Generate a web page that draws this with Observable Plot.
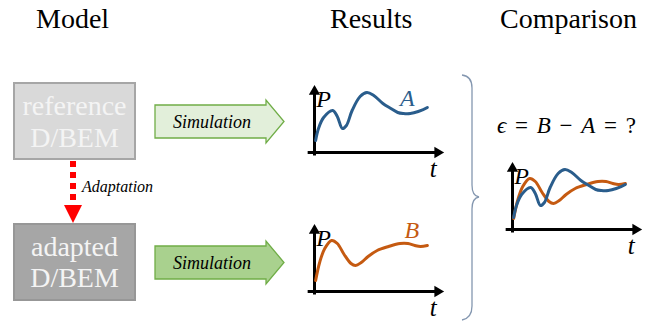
<!DOCTYPE html>
<html><head><meta charset="utf-8">
<script src="https://cdn.jsdelivr.net/npm/d3@7"></script>
<script src="https://cdn.jsdelivr.net/npm/@observablehq/plot@0.6"></script>
<style>
html,body{margin:0;padding:0;background:#fff;}
#stage{position:relative;width:654px;height:322px;overflow:hidden;background:#fff;}
#stage svg.deco{position:absolute;left:0;top:0;}
.mini{position:absolute;}
</style></head><body><div id="stage"></div>
<script>
// ---------- data ----------
const tA = [0.1, 0.35, 0.8, 1.6, 2.0, 2.45, 2.8, 3.3, 4.0, 4.6, 5.2, 6.0, 6.7, 7.3, 7.8, 8.4, 9.1, 9.9];
const pA = [1.2, 2.4, 3.5, 4.2, 3.6, 2.4, 2.7, 4.2, 5.6, 6.0, 5.7, 4.9, 4.4, 4.0, 3.9, 3.9, 4.1, 4.5];
const tB = [0.1, 0.45, 0.9, 1.5, 2.0, 2.6, 3.2, 3.6, 4.1, 4.7, 5.5, 6.5, 7.5, 8.2, 8.8, 9.3, 9.9];
const pB = [1.1, 2.9, 4.3, 5.1, 4.8, 3.7, 2.8, 2.6, 2.9, 3.5, 4.1, 4.5, 4.8, 4.8, 4.6, 4.5, 4.6];
const seriesNames = ["A", "B"];
const axisNames = ["P", "t"];
const headings = ["Model", "Results", "Comparison"];
const modelLines = [["reference", "D/BEM"], ["adapted", "D/BEM"]];
const stepLabels = ["Simulation", "Adaptation"];
const equationParts = [["ϵ", true], [" = ", false], ["B", true], [" − ", false], ["A", true], [" = ?", false]];
// axis extents (in data units of the mini charts)
const xAxisSpan = [-0.6, 10.8];
const yAxisSpan = [-0.3, 6.1];
const labelPos = {P: [0.15, 4.6], t: [10.1, -2.45], A: [7.5, 4.7], B: [7.9, 5.4]};

// ---------- styles / layout ----------
const serif = "'Liberation Serif', 'DejaVu Serif', serif";
const colors = {A: "#2a5d8c", B: "#c55a11"};
const stage = d3.select("#stage");
const svg = stage.append("svg").attr("class", "deco").attr("width", 654).attr("height", 322);

// headings
const headX = [36, 330, 500];
headings.forEach((h, i) => svg.append("text").attr("x", headX[i]).attr("y", 28)
  .attr("font-family", serif).attr("font-size", 28).attr("fill", "#000").text(h));

// model boxes
const boxes = [
  {y: 83, fill: "#d9d9d9", stroke: "#a6a6a6", base: [115, 147]},
  {y: 224, fill: "#a6a6a6", stroke: "#979797", base: [256, 287]}
];
boxes.forEach((b, i) => {
  svg.append("rect").attr("x", 14).attr("y", b.y).attr("width", 121).attr("height", 76)
    .attr("fill", b.fill).attr("stroke", b.stroke).attr("stroke-width", 2);
  modelLines[i].forEach((line, j) => svg.append("text").attr("x", 74.5).attr("y", b.base[j])
    .attr("text-anchor", "middle").attr("font-family", serif).attr("font-size", 28)
    .attr("fill", "#f4f4f4").text(line));
});

// adaptation arrow
svg.append("line").attr("x1", 73).attr("x2", 73).attr("y1", 161).attr("y2", 205)
  .attr("stroke", "#ff0000").attr("stroke-width", 6).attr("stroke-dasharray", "6 5");
svg.append("path").attr("d", "M64,205L82,205L73,223Z").attr("fill", "#ff0000");
svg.append("text").attr("x", 82).attr("y", 192).attr("font-family", serif).attr("font-size", 16)
  .attr("font-style", "italic").attr("fill", "#000").text(stepLabels[1]);

// simulation arrows
[{dy: 0, fill: "#e2efda"}, {dy: 141, fill: "#a9d18e"}].forEach(a => {
  const d = a.dy;
  svg.append("path")
    .attr("d", `M155,${105 + d}L266,${105 + d}L266,${100 + d}L284,${121.5 + d}L266,${143 + d}L266,${138 + d}L155,${138 + d}Z`)
    .attr("fill", a.fill).attr("stroke", "#70ad47").attr("stroke-width", 1.3);
  svg.append("text").attr("x", 212).attr("y", 128 + d).attr("text-anchor", "middle")
    .attr("font-family", serif).attr("font-size", 18).attr("font-style", "italic")
    .attr("fill", "#000").text(stepLabels[0]);
});

// brace
svg.append("path").attr("d", "M462,75Q472,76 472,88L472,185Q472,196 479,197Q472,198 472,209L472,306Q472,318 462,320")
  .attr("fill", "none").attr("stroke", "#8497b0").attr("stroke-width", 1.3);

// equation
const eq = svg.append("text").attr("x", 497).attr("y", 133).attr("font-family", serif)
  .attr("font-size", 23).attr("fill", "#000").style("white-space", "pre").style("word-spacing", "3px");
equationParts.forEach(([s, it]) => eq.append("tspan").attr("font-style", it ? "italic" : "normal").text(s));

// ---------- mini charts ----------
const seriesA = tA.map((t, i) => ({t, P: pA[i], s: "A"}));
const seriesB = tB.map((t, i) => ({t, P: pB[i], s: "B"}));

function miniChart(seriesList, named) {
  const axes = [
    {x1: xAxisSpan[0], y1: 0, x2: xAxisSpan[1], y2: 0},
    {x1: 0, y1: yAxisSpan[0], x2: 0, y2: yAxisSpan[1]}
  ];
  const tips = [{x: xAxisSpan[1], y: 0, r: 90}, {x: 0, y: yAxisSpan[1], r: 0}];
  const marks = [
    Plot.link(axes, {x1: "x1", y1: "y1", x2: "x2", y2: "y2", stroke: "#000", strokeWidth: 3}),
    Plot.dot(tips, {x: "x", y: "y", symbol: "triangle", r: 4.2, fill: "#000", stroke: "none", rotate: "r"})
  ];
  seriesList.forEach(s => marks.push(Plot.line(s, {x: "t", y: "P", stroke: colors[s[0].s], strokeWidth: 3, curve: "catmull-rom"})));
  marks.push(Plot.text([axisNames[0]], {x: labelPos.P[0], y: labelPos.P[1], text: d => d, textAnchor: "start", lineAnchor: "bottom",
    fontFamily: serif, fontStyle: "italic", fontSize: 24, fill: "#000"}));
  marks.push(Plot.text([axisNames[1]], {x: labelPos.t[0], y: labelPos.t[1], text: d => d, textAnchor: "start", lineAnchor: "bottom",
    fontFamily: serif, fontStyle: "italic", fontSize: 25, fill: "#000"}));
  if (named) marks.push(Plot.text([named], {x: labelPos[named][0], y: labelPos[named][1], text: d => d, textAnchor: "start",
    lineAnchor: "bottom", fontFamily: serif, fontStyle: "italic", fontSize: 24, fill: colors[named]}));
  return Plot.plot({
    width: 150, height: 112,
    marginLeft: 14, marginRight: 22, marginTop: 17, marginBottom: 35,
    x: {domain: [0, 10], axis: null},
    y: {domain: [0, 6], axis: null},
    style: {background: "transparent", overflow: "visible"},
    marks
  });
}

function place(node, left, top) {
  const div = stage.append("div").attr("class", "mini").style("left", left + "px").style("top", top + "px");
  div.node().appendChild(node);
}
place(miniChart([seriesA], seriesNames[0]), 300, 75);
place(miniChart([seriesB], seriesNames[1]), 300, 214);
place(miniChart([seriesB, seriesA], null), 498, 152);
</script></body></html>
